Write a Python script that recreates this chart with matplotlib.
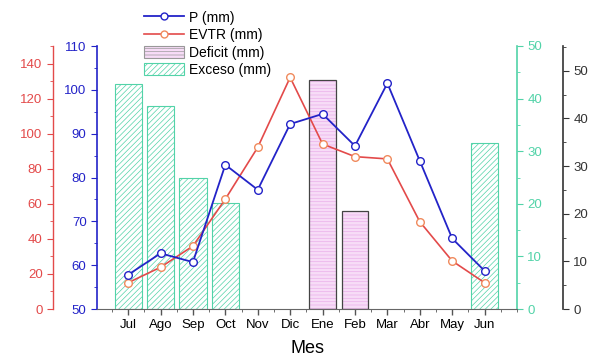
import matplotlib
matplotlib.use("Agg")
import matplotlib.pyplot as plt
from matplotlib.ticker import MultipleLocator
from matplotlib.patches import Patch
from matplotlib.lines import Line2D

plt.rcParams['font.family'] = ['Liberation Sans', 'DejaVu Sans']
plt.rcParams['hatch.linewidth'] = 0.5

months = ['Jul', 'Ago', 'Sep', 'Oct', 'Nov', 'Dic', 'Ene', 'Feb', 'Mar', 'Abr', 'May', 'Jun']
p_mm = [57.8, 62.7, 60.7, 82.9, 77.2, 92.2, 94.5, 87.2, 101.5, 83.8, 66.1, 58.7]
evtr_mm = [15.0, 23.8, 35.9, 62.7, 92.2, 132.1, 94.1, 86.9, 85.6, 49.8, 27.4, 15.0]
exceso_mm = [42.8, 38.6, 25.0, 20.1, 0, 0, 0, 0, 0, 0, 0, 31.5]
deficit_mm = [0, 0, 0, 0, 0, 0, 48.0, 20.5, 0, 0, 0, 0]

blue = '#2323c8'
red = '#e34a4a'
red_mk = '#f08a5d'
green = '#52d3a8'
black = '#333333'

x = list(range(len(months)))

fig = plt.figure(figsize=(5.95, 3.58), dpi=100)
ax = fig.add_axes([97 / 595, 49 / 358, 420 / 595, 263 / 358])
ax_g = ax.twinx()
ax_k = ax.twinx()
ax_r = ax.twinx()

# bars
ex_x = [i for i in x if exceso_mm[i] > 0]
ax_g.bar(ex_x, [exceso_mm[i] for i in ex_x], width=0.84, color='white',
         edgecolor=green, hatch='//////', linewidth=0.8)
de_x = [i for i in x if deficit_mm[i] > 0]
ax_k.bar(de_x, [deficit_mm[i] for i in de_x], width=0.82, color='#f7dcf7',
         edgecolor='#eab0ea', hatch='-----', linewidth=0)
ax_k.bar(de_x, [deficit_mm[i] for i in de_x], width=0.82, fill=False,
         edgecolor='#444444', linewidth=0.9)

# lines
ax_r.plot(x, evtr_mm, color=red, lw=1.2, marker='o', ms=5.5,
          mfc='white', mec=red_mk, mew=1.0)
ax.plot(x, p_mm, color=blue, lw=1.3, marker='o', ms=5.5,
        mfc='white', mec=blue, mew=1.0)

ax.set_zorder(ax_r.get_zorder() + 1)
ax.patch.set_visible(False)

# x axis
ax.set_xlim(-0.96, 12.0)
ax.set_xticks(x)
ax.set_xticklabels(months, fontsize=9.5)
ax.xaxis.set_minor_locator(MultipleLocator(0.5))
ax.set_xlabel('Mes', fontsize=13, labelpad=6)
ax.tick_params(axis='x', colors='#555555', labelcolor='black', length=4, width=1)
ax.tick_params(axis='x', which='minor', length=2.5, colors='#555555')
ax.spines['bottom'].set_color('#666666')

# blue axis (P)
ax.set_ylim(50, 110)
ax.yaxis.set_major_locator(MultipleLocator(10))
ax.yaxis.set_minor_locator(MultipleLocator(5))
ax.tick_params(axis='y', colors=blue, labelsize=9.5, length=4)
ax.tick_params(axis='y', which='minor', length=2.5, colors=blue)
ax.spines['left'].set_color(blue)
ax.spines['left'].set_linewidth(1.2)
ax.spines['top'].set_visible(False)
ax.spines['right'].set_visible(False)

for a in (ax_g, ax_k, ax_r):
    for s in a.spines.values():
        s.set_visible(False)

# green axis (Exceso)
ax_g.set_ylim(0, 50)
ax_g.spines['right'].set_visible(True)
ax_g.spines['right'].set_color(green)
ax_g.spines['right'].set_linewidth(1.2)
ax_g.yaxis.set_major_locator(MultipleLocator(10))
ax_g.yaxis.set_minor_locator(MultipleLocator(5))
ax_g.tick_params(axis='y', colors=green, labelsize=9.5, length=4)
ax_g.tick_params(axis='y', which='minor', length=2.5, colors=green)

# black axis (Deficit)
ax_k.set_ylim(0, 55.2)
ax_k.spines['right'].set_visible(True)
ax_k.spines['right'].set_position(('axes', 46 / 420 + 1))
ax_k.spines['right'].set_color(black)
ax_k.spines['right'].set_linewidth(1.2)
ax_k.yaxis.set_major_locator(MultipleLocator(10))
ax_k.yaxis.set_minor_locator(MultipleLocator(5))
ax_k.tick_params(axis='y', colors=black, labelsize=9.5, length=4)
ax_k.tick_params(axis='y', which='minor', length=2.5, colors=black)

# red axis (EVTR)
ax_r.set_ylim(0, 150)
ax_r.yaxis.tick_left()
ax_r.yaxis.set_label_position('left')
ax_r.spines['left'].set_visible(True)
ax_r.spines['left'].set_position(('axes', -44 / 420))
ax_r.spines['left'].set_color(red)
ax_r.spines['left'].set_linewidth(1.0)
ax_r.yaxis.set_major_locator(MultipleLocator(20))
ax_r.yaxis.set_minor_locator(MultipleLocator(10))
ax_r.tick_params(axis='y', colors=red, labelsize=9.5, length=4)
ax_r.tick_params(axis='y', which='minor', length=2.5, colors=red)

handles = [
    Line2D([], [], color=blue, lw=1.3, marker='o', ms=5, mfc='white', mec=blue),
    Line2D([], [], color=red, lw=1.2, marker='o', ms=5, mfc='white', mec=red_mk),
    Patch(facecolor='#f7dcf7', edgecolor='#999999', hatch='-----', lw=0.8),
    Patch(facecolor='white', edgecolor=green, hatch='//////', lw=0.8),
]
labels = ['P (mm)', 'EVTR (mm)', 'Deficit (mm)', 'Exceso (mm)']
fig.legend(handles, labels, loc='upper left', bbox_to_anchor=(138 / 595, 1 - 5 / 358),
           frameon=False, fontsize=10, handlelength=2.9, handletextpad=0.4,
           handleheight=1.0, labelspacing=0.25, borderaxespad=0)

fig.savefig('out.png', dpi=100)
